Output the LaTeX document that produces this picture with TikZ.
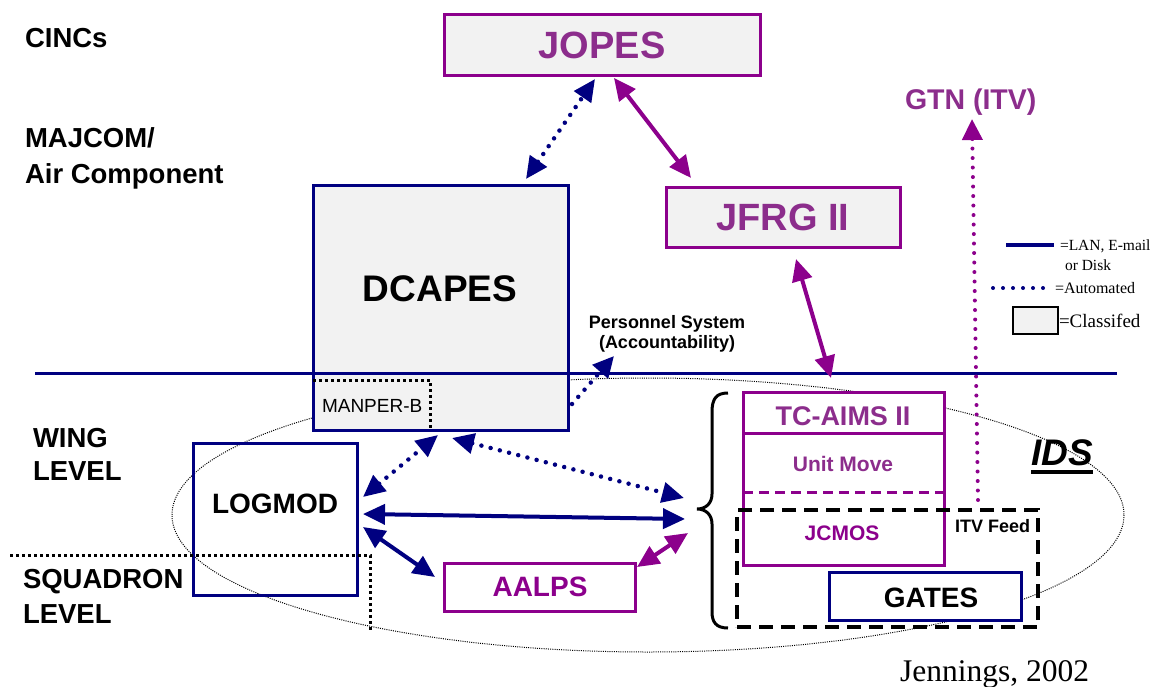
\documentclass[tikz,border=0pt]{standalone}
\usepackage{fontspec}
\setmainfont{Liberation Sans}
\newfontfamily\tmsfont{Liberation Serif}
\usetikzlibrary{arrows.meta,calc}
\definecolor{navy}{RGB}{0,0,128}
\definecolor{pborder}{RGB}{140,0,140}
\definecolor{ptext}{RGB}{140,45,140}
\definecolor{classfill}{RGB}{242,242,242}
\tikzset{
  every node/.style={inner sep=0pt,outer sep=0pt},
  navybox/.style={draw=navy,line width=3pt},
  purplebox/.style={draw=pborder,line width=3pt},
  classified/.style={fill=classfill},
  whitebox/.style={fill=white},
  bothtips/.style={arrows={Triangle[length=22pt,width=20pt]-Triangle[length=22pt,width=20pt]}},
  endtip/.style={arrows={-Triangle[length=21pt,width=20pt]}},
  solidnavy/.style={draw=navy,line width=4pt,bothtips},
  solidpurple/.style={draw=pborder,line width=4pt,bothtips},
  dotnavy/.style={draw=navy,line width=4.5pt,line cap=round,dash pattern=on 0pt off 9.5pt},
  dotpurple/.style={draw=pborder,line width=4pt,line cap=round,dash pattern=on 0pt off 9.5pt},
  blackdots/.style={draw=black,line width=3pt,dash pattern=on 3pt off 3pt},
  ellipsedots/.style={draw=black,line width=1pt,dash pattern=on 1pt off 1.2pt},
  sidetext/.style={font=\bfseries\fontsize{27.5}{30}\selectfont,anchor=base west},
  bigtitle/.style={font=\bfseries\fontsize{38}{40}\selectfont},
  midtitle/.style={font=\bfseries\fontsize{28}{30}\selectfont},
  smalltitle/.style={font=\bfseries\fontsize{21}{24}\selectfont},
  legtext/.style={font=\tmsfont\fontsize{15.5}{17}\selectfont,anchor=base west},
}
\begin{document}
\begin{tikzpicture}[x=1pt,y=-1pt]
\useasboundingbox (0,0) rectangle (1155,687);

% IDS ellipse
\draw[ellipsedots] (648,515) ellipse [x radius=476, y radius=137];

% side labels
\node[sidetext] (cincs) at (25,48) {CINCs};
\node[sidetext] (majcom) at (25,148) {MAJCOM/};
\node[sidetext] (aircomp) at (25,183) {Air Component};
\node[sidetext] (wing) at (33,447) {WING};
\node[sidetext] (winglevel) at (33,480) {LEVEL};
\node[sidetext] (sqd) at (23,588) {SQUADRON};
\node[sidetext] (sqdlevel) at (23,623) {LEVEL};

% JOPES
\node[purplebox,classified,minimum width=316pt,minimum height=61pt,bigtitle,text=ptext] (jopes) at (602,45.5) {JOPES};
% JFRG II
\node[purplebox,classified,minimum width=234pt,minimum height=60pt,bigtitle,text=ptext] (jfrg) at (783,217) {JFRG II};
% GTN
\node[font=\bfseries\fontsize{28.5}{30}\selectfont,text=ptext,anchor=base west] (gtn) at (905,110) {GTN (ITV)};

% DCAPES
\node[navybox,classified,minimum width=255pt,minimum height=245pt] (dcapes) at (440.5,307.5) {};
\node[font=\bfseries\fontsize{37}{40}\selectfont,anchor=base] (dcapestxt) at (440,301) {DCAPES};
\draw[blackdots] ($(dcapes.west)+(0,72.5)$) coordinate (manA) -- (430,380) coordinate (manB) -- ($(dcapes.south)+(-10.5,0)$) coordinate (manC);
\node[font=\fontsize{19}{21}\selectfont,anchor=base west] (manper) at (322,412) {MANPER-B};

% personnel system
\node[font=\bfseries\fontsize{18}{20}\selectfont,anchor=base] (pers1) at (667,328) {Personnel System};
\node[font=\bfseries\fontsize{18}{20}\selectfont,anchor=base] (pers2) at (667,348) {(Accountability)};

% horizontal separator
\coordinate (hsepL) at (35,373);
\coordinate (hsepR) at (1117,373);
\draw[navy,line width=3pt] (hsepL) -- (hsepR);

% LOGMOD
\node[navybox,minimum width=164pt,minimum height=152pt] (logmod) at (275,519) {};
\node[midtitle,anchor=base] (logmodtxt) at (275,513) {LOGMOD};

% AALPS
\node[purplebox,whitebox,minimum width=191pt,minimum height=48pt,midtitle,text=pborder] (aalps) at (540,587) {AALPS};

% TC-AIMS II stack
\node[purplebox,whitebox,minimum width=201pt,minimum height=173pt] (tcbox) at (843.5,478.5) {};
\draw[pborder,line width=3pt] ($(tcbox.north west)+(0,41)$) coordinate (tcdivL) -- ($(tcbox.north east)+(0,41)$) coordinate (tcdivR);
\draw[pborder,line width=3pt,dash pattern=on 10pt off 6pt] ($(tcbox.north west)+(0,100)$) coordinate (umL) -- ($(tcbox.north east)+(3,100)$) coordinate (umR);
\node[font=\bfseries\fontsize{27}{30}\selectfont,text=ptext,anchor=base] (tcaims) at (843,425) {TC-AIMS II};
\node[smalltitle,text=ptext,anchor=base] (unitmove) at (843,471) {Unit Move};
\node[smalltitle,text=pborder,anchor=base] (jcmos) at (842,540) {JCMOS};

% GATES
\node[navybox,whitebox,minimum width=192pt,minimum height=48pt] (gates) at (925.5,596) {};
\node[midtitle,anchor=base] (gatestxt) at (931,607) {GATES};

% ITV feed dashed box
\node[draw=black,line width=3.5pt,dash pattern=on 14pt off 8pt,minimum width=301pt,minimum height=117pt] (itvbox) at (887.5,568.5) {};
\node[font=\bfseries\fontsize{18}{20}\selectfont,anchor=base west] (itvfeed) at (955,532) {ITV Feed};

% IDS label
\node[font=\bfseries\itshape\fontsize{37}{40}\selectfont,anchor=base west] (ids) at (1031,465) {IDS};
\draw[line width=3.5pt] ([yshift=-7pt]ids.base west) -- ([yshift=-7pt]ids.base east);

% brace
\coordinate (braceTop) at (728,393);
\coordinate (braceTip) at (697,509);
\coordinate (braceBot) at (728,628);
\draw[line width=3pt] (braceTop) .. controls (716,393) and (712,399) .. (712,412) -- (712,494) .. controls (712,503) and (706,509) .. (braceTip) .. controls (706,509) and (712,515) .. (712,524) -- (712,612) .. controls (712,622) and (716,628) .. (braceBot);

% squadron separator
\coordinate (sqA) at (10,555);
\coordinate (sqB) at (370,555);
\coordinate (sqC) at (370,630);
\draw[blackdots] (sqA) -- (sqB) -- (sqC);

% connectors
\coordinate (jopesL) at (595,79);
\coordinate (dcapesT) at (526,179);
\draw[dotnavy,bothtips] (dcapesT) -- (jopesL);
\coordinate (jopesR) at (614,78);
\coordinate (jfrgT) at (691,178);
\draw[solidpurple] (jopesR) -- (jfrgT);
\coordinate (jfrgB) at (796,259);
\coordinate (tcT) at (831,378);
\draw[solidpurple] (jfrgB) -- (tcT);
\coordinate (persA) at (572,404);
\coordinate (persB) at (614,356);
\draw[dotnavy,endtip] (persA) -- (persB);
\coordinate (logTR) at (363,497);
\coordinate (manBot) at (438,435);
\draw[dotnavy,bothtips] (logTR) -- (manBot);
\coordinate (dcBot) at (452,438);
\coordinate (braceU) at (684,498);
\draw[dotnavy,bothtips] (dcBot) -- (braceU);
\coordinate (logR) at (363,514);
\coordinate (braceM) at (685,519);
\draw[solidnavy] (logR) -- (braceM);
\coordinate (logBR) at (363,527);
\coordinate (aalpsL) at (435,577);
\draw[solidnavy] (logBR) -- (aalpsL);
\coordinate (aalpsR) at (637,567);
\coordinate (braceL) at (688,533);
\draw[solidpurple] (aalpsR) -- (braceL);
\coordinate (itvUp) at (978,500);
\coordinate (gtnB) at (972,119);
\draw[dotpurple,endtip] (itvUp) -- (gtnB);

% legend
\coordinate (legA) at (1006,245);
\coordinate (legB) at (1054,245);
\draw[navy,line width=4pt] (legA) -- (legB);
\node[legtext] (leg1) at (1060,250) {=LAN, E-mail};
\node[legtext] (leg1b) at (1065,270) {or Disk};
\coordinate (legC) at (993,288);
\coordinate (legD) at (1053,288);
\draw[draw=navy,line width=4pt,line cap=round,dash pattern=on 0pt off 10pt] (legC) -- (legD);
\node[legtext,font=\tmsfont\fontsize{16}{18}\selectfont] (leg2) at (1055,293) {=Automated};
\node[draw=black,line width=1.2pt,classified,minimum width=45pt,minimum height=27pt] (legbox) at (1035.5,320.5) {};
\node[legtext,font=\tmsfont\fontsize{19}{21}\selectfont] (leg3) at (1059,327) {=Classifed};

% citation
\node[font=\tmsfont\fontsize{31.5}{34}\selectfont,anchor=base west] (cite) at (900,681) {Jennings, 2002};
\end{tikzpicture}
\end{document}
